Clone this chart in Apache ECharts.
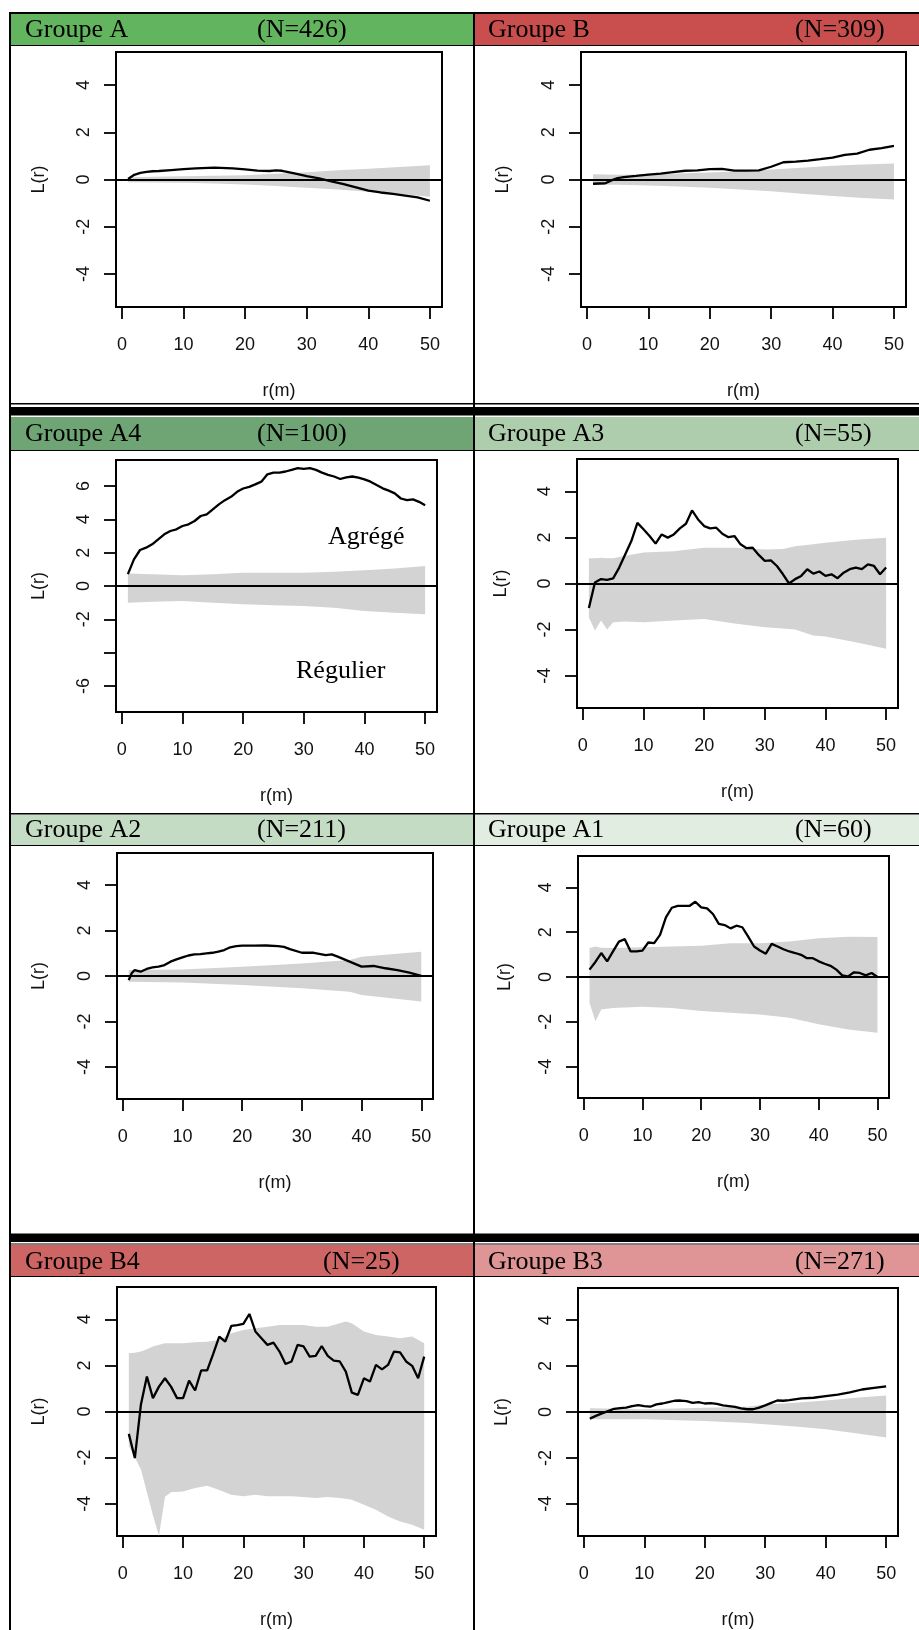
<!DOCTYPE html>
<html><head><meta charset="utf-8">
<script src="https://cdn.jsdelivr.net/npm/echarts@6/dist/echarts.min.js"></script>
<style>html,body{margin:0;padding:0;background:#fff}#c{width:919px;height:1630px}</style>
</head><body><div id="c"></div>
<script>
// ---------------- DATA ----------------
const panelTitles = ['Groupe A','Groupe B','Groupe A4','Groupe A3','Groupe A2','Groupe A1','Groupe B4','Groupe B3'];
const panelCounts = ['(N=426)','(N=309)','(N=100)','(N=55)','(N=211)','(N=60)','(N=25)','(N=271)'];
const xTicks = [0,10,20,30,40,50];
const yTicks = [-4,-2,0,2,4];
const yTicksA4 = [-6,-4,-2,0,2,4,6];
const yLabelsA4 = [-6,-2,0,2,4,6];
const r50 = [1,2,3,4,5,6,7,8,9,10,11,12,13,14,15,16,17,18,19,20,21,22,23,24,25,26,27,28,29,30,31,32,33,34,35,36,37,38,39,40,41,42,43,44,45,46,47,48,49,50];

// Groupe A
const A_r = [1,2,3,4,5,6,8,10,12,14,15,16,18,20,22,24,25,26,28,30,32,34,36,38,40,42,44,46,48,50];
const A_L = [0.02,0.2,0.28,0.32,0.35,0.36,0.4,0.44,0.47,0.49,0.5,0.49,0.47,0.43,0.38,0.36,0.39,0.37,0.26,0.14,0.05,-0.08,-0.2,-0.33,-0.47,-0.55,-0.61,-0.68,-0.76,-0.9];
const A_envR = [1,5,10,15,20,25,30,35,40,45,50];
const A_hi = [0.1,0.12,0.14,0.16,0.18,0.24,0.31,0.39,0.46,0.53,0.6];
const A_lo = [-0.12,-0.13,-0.14,-0.17,-0.21,-0.27,-0.35,-0.42,-0.52,-0.6,-0.73];

// Groupe B
const B_r = [1,2,3,4,5,6,8,10,12,14,16,18,20,22,24,26,28,30,32,34,36,38,40,42,44,46,48,50];
const B_L = [-0.18,-0.17,-0.16,-0.04,0.06,0.1,0.15,0.21,0.25,0.31,0.37,0.39,0.44,0.45,0.38,0.38,0.39,0.54,0.73,0.76,0.8,0.86,0.93,1.04,1.1,1.26,1.33,1.42];
const B_envR = [1,5,10,15,20,25,30,35,40,45,50];
const B_hi = [0.22,0.2,0.21,0.25,0.3,0.35,0.42,0.5,0.58,0.64,0.68];
const B_lo = [-0.22,-0.22,-0.25,-0.3,-0.35,-0.42,-0.5,-0.6,-0.7,-0.78,-0.85];

// Groupe A4
const A4_L = [0.71,1.6,2.16,2.3,2.5,2.8,3.1,3.3,3.4,3.6,3.7,3.9,4.2,4.3,4.6,4.9,5.15,5.35,5.65,5.85,5.95,6.1,6.26,6.7,6.8,6.8,6.87,6.97,7.07,7.03,7.07,6.97,6.8,6.67,6.57,6.42,6.52,6.57,6.5,6.4,6.26,6.06,5.86,5.72,5.56,5.25,5.15,5.2,5.05,4.85];
const A4_envR = [1,5,10,15,20,25,30,35,40,45,50];
const A4_hi = [0.75,0.7,0.65,0.7,0.8,0.8,0.8,0.85,0.95,1.05,1.2];
const A4_lo = [-1.0,-0.95,-0.9,-1.0,-1.1,-1.15,-1.2,-1.3,-1.5,-1.6,-1.7];

// Groupe A3
const A3_L = [-1.06,0.04,0.19,0.16,0.22,0.69,1.27,1.84,2.63,2.35,2.06,1.73,2.13,1.99,2.13,2.39,2.59,3.17,2.78,2.49,2.39,2.42,2.16,2.01,2.06,1.7,1.53,1.55,1.24,0.98,1.0,0.76,0.4,0.0,0.19,0.33,0.62,0.43,0.52,0.33,0.4,0.23,0.47,0.62,0.69,0.62,0.83,0.76,0.4,0.69];
const A3_envR = [1,2,3,4,5,7,10,15,20,25,30,33,35,38,40,45,50];
const A3_hi = [1.1,1.1,1.12,1.1,1.1,1.2,1.34,1.4,1.55,1.55,1.48,1.5,1.62,1.7,1.77,1.9,1.98];
const A3_lo = [-1.47,-2.04,-1.6,-2.0,-1.68,-1.65,-1.68,-1.6,-1.54,-1.73,-1.9,-1.95,-2.0,-2.25,-2.3,-2.55,-2.83];

// Groupe A2
const A2_r = [1,1.5,2,3,4,5,6,7,8,9,10,11,12,13,14,15,16,17,18,19,20,22,24,26,27,28,30,32,34,35,36,38,40,42,44,46,48,50];
const A2_L = [-0.18,0.12,0.26,0.19,0.31,0.38,0.41,0.48,0.63,0.73,0.82,0.9,0.95,0.96,0.99,1.02,1.07,1.14,1.26,1.31,1.33,1.33,1.34,1.31,1.28,1.18,1.02,1.02,0.92,0.95,0.85,0.63,0.41,0.44,0.34,0.26,0.15,0.01];
const A2_envR = [1,10,20,30,38,40,45,50];
const A2_hi = [0.26,0.29,0.41,0.55,0.7,0.85,0.96,1.07];
const A2_lo = [-0.25,-0.29,-0.39,-0.54,-0.69,-0.83,-0.98,-1.12];

// Groupe A1
const A1_L = [0.33,0.67,1.07,0.7,1.14,1.58,1.69,1.14,1.14,1.18,1.54,1.51,1.88,2.66,3.09,3.17,3.17,3.17,3.36,3.11,3.06,2.81,2.37,2.32,2.17,2.29,2.22,1.8,1.36,1.18,1.04,1.48,1.36,1.24,1.14,1.07,0.99,0.84,0.84,0.7,0.59,0.5,0.33,0.07,0.03,0.21,0.18,0.07,0.18,0.0];
const A1_envR = [1,2,3,5,10,15,20,25,30,35,40,45,50];
const A1_hi = [1.29,1.36,1.3,1.29,1.33,1.36,1.39,1.51,1.51,1.58,1.73,1.8,1.78];
const A1_lo = [-1.15,-1.97,-1.45,-1.38,-1.33,-1.38,-1.52,-1.6,-1.67,-1.82,-2.11,-2.34,-2.49];

// Groupe B4
const B4_L = [-0.97,-2.02,0.29,1.52,0.58,1.08,1.44,1.08,0.58,0.58,1.34,0.91,1.78,1.78,2.5,3.25,3.03,3.71,3.75,3.8,4.23,3.47,3.18,2.89,2.99,2.6,2.06,2.17,2.89,2.82,2.38,2.41,2.84,2.41,2.21,2.17,1.73,0.82,0.72,1.44,1.3,2.02,1.83,2.02,2.6,2.56,2.17,1.98,1.44,2.38];
const B4_envR = [1,2,3,4,5,6,7,8,10,12,14,16,18,20,22,24,26,28,30,32,34,36,37,38,40,42,44,46,48,50];
const B4_hi = [2.53,2.55,2.6,2.7,2.82,2.9,2.96,2.96,2.96,3.0,3.03,3.1,3.39,3.54,3.61,3.68,3.75,3.75,3.75,3.68,3.68,3.83,3.9,3.83,3.47,3.32,3.25,3.18,3.25,2.96];
const B4_lo = [-1.5,-2.0,-2.5,-3.5,-4.5,-5.4,-3.7,-3.5,-3.47,-3.32,-3.22,-3.4,-3.61,-3.68,-3.61,-3.68,-3.68,-3.68,-3.71,-3.75,-3.71,-3.75,-3.78,-3.83,-4.04,-4.26,-4.55,-4.77,-4.91,-5.13];

// Groupe B3
const B3_r = [1,2,3,4,5,6,7,8,9,10,11,12,13,14,15,16,17,18,19,20,21,22,23,24,25,26,27,28,29,30,31,32,33,34,36,38,40,42,44,46,48,50];
const B3_L = [-0.29,-0.17,-0.06,0.04,0.14,0.17,0.19,0.26,0.3,0.26,0.23,0.33,0.37,0.43,0.49,0.5,0.47,0.4,0.43,0.37,0.39,0.35,0.29,0.26,0.22,0.16,0.12,0.12,0.19,0.29,0.4,0.5,0.49,0.52,0.59,0.62,0.69,0.76,0.85,0.98,1.05,1.12];
const B3_envR = [1,10,20,27,30,35,40,45,50];
const B3_hi = [0.16,0.12,0.19,0.23,0.33,0.4,0.5,0.62,0.72];
const B3_lo = [-0.32,-0.32,-0.39,-0.48,-0.53,-0.63,-0.75,-0.92,-1.11];

const panelData = [
  {r:A_r, L:A_L, er:A_envR, hi:A_hi, lo:A_lo, yt:yTicks, yl:yTicks, ylim:5.4},
  {r:B_r, L:B_L, er:B_envR, hi:B_hi, lo:B_lo, yt:yTicks, yl:yTicks, ylim:5.4},
  {r:r50, L:A4_L, er:A4_envR, hi:A4_hi, lo:A4_lo, yt:yTicksA4, yl:yLabelsA4, ylim:7.56},
  {r:r50, L:A3_L, er:A3_envR, hi:A3_hi, lo:A3_lo, yt:yTicks, yl:yTicks, ylim:5.4},
  {r:A2_r, L:A2_L, er:A2_envR, hi:A2_hi, lo:A2_lo, yt:yTicks, yl:yTicks, ylim:5.4},
  {r:r50, L:A1_L, er:A1_envR, hi:A1_hi, lo:A1_lo, yt:yTicks, yl:yTicks, ylim:5.4},
  {r:r50, L:B4_L, er:B4_envR, hi:B4_hi, lo:B4_lo, yt:yTicks, yl:yTicks, ylim:5.4},
  {r:B3_r, L:B3_L, er:B3_envR, hi:B3_hi, lo:B3_lo, yt:yTicks, yl:yTicks, ylim:5.4}
];

// ---------------- LAYOUT / STYLE ----------------
const boxes = [
  [116,52,326,255],[581,52,325,255],
  [116,460,321,252],[577,459,321,249],
  [117,853,316,246],[578,856,311,242],
  [117,1287,319,249],[578,1288,320,250]
];
const yNameGaps = [68,69,68,67,69,64,69,67];
const headerColors = ['#63b45f','#c94f4f','#6fa474','#aecdad','#c4dcc4','#e2ede2','#cd6565','#df9595'];
const headerRows = [{y:14,h:31,ty:30},{y:417,h:33,ty:434},{y:814.5,h:30.5,ty:830},{y:1245,h:31,ty:1262}];
const countX = [257,795,257,795,257,795,323,795];

const AX = 'Liberation Sans', SERIF = 'Liberation Serif';
const grids=[], xAxes=[], yAxes=[], series=[], graphics=[];

panelData.forEach((p,i)=>{
  const b = boxes[i];
  grids.push({left:b[0], top:b[1], width:b[2], height:b[3], show:true, borderColor:'#000', borderWidth:2, backgroundColor:'transparent', containLabel:false});
  xAxes.push({type:'value', gridIndex:i, min:-0.96, max:51.96,
    axisLine:{show:false, onZero:false}, splitLine:{show:false},
    axisTick:{show:true, customValues:xTicks, length:12, lineStyle:{color:'#000', width:1.8}},
    axisLabel:{customValues:xTicks, margin:29, fontSize:18, fontFamily:AX, color:'#111'},
    name:'r(m)', nameLocation:'middle', nameGap:75, nameTextStyle:{fontSize:18, fontFamily:AX, color:'#111'}});
  yAxes.push({type:'value', gridIndex:i, min:-p.ylim, max:p.ylim,
    axisLine:{show:false, onZero:false}, splitLine:{show:false},
    axisTick:{show:true, customValues:p.yt, length:12, lineStyle:{color:'#000', width:1.8}},
    axisLabel:{customValues:p.yl, rotate:90, margin:23, fontSize:18, fontFamily:AX, color:'#111'},
    name:'L(r)', nameLocation:'middle', nameRotate:90, nameGap:yNameGaps[i], nameTextStyle:{fontSize:18, fontFamily:AX, color:'#111'}});
  // envelope polygon: hi forward, lo backward, projected through the axes
  series.push({type:'custom', xAxisIndex:i, yAxisIndex:i, silent:true, clip:true, z:1,
    data:[[p.er[0], 0]],
    renderItem:(params, api)=>{
      const pts = [];
      for (let k=0;k<p.er.length;k++) pts.push(api.coord([p.er[k], p.hi[k]]));
      for (let k=p.er.length-1;k>=0;k--) pts.push(api.coord([p.er[k], p.lo[k]]));
      return {type:'polygon', shape:{points:pts}, style:{fill:'#d3d3d3'}};
    }});
  series.push({type:'line', xAxisIndex:i, yAxisIndex:i, symbol:'none', silent:true,
    lineStyle:{color:'#000', width:2.3}, data:p.r.map((x,k)=>[x,p.L[k]]), z:3,
    markLine:{silent:true, symbol:['none','none'], label:{show:false}, lineStyle:{color:'#000', width:1.8, type:'solid'}, data:[{yAxis:0}]}});

  // header
  const row = headerRows[Math.floor(i/2)];
  const left = i%2===0;
  graphics.push({type:'rect', shape:{x:left?11:475, y:row.y, width:left?462:444, height:row.h}, style:{fill:headerColors[i]}, z:0});
  graphics.push({type:'text', x:left?25:488, y:row.ty, style:{text:panelTitles[i], fontSize:26, fontFamily:SERIF, fill:'#000', verticalAlign:'middle'}, z:5});
  graphics.push({type:'text', x:countX[i], y:row.ty, style:{text:panelCounts[i], fontSize:26, fontFamily:SERIF, fill:'#000', verticalAlign:'middle'}, z:5});
});

// table lines
const lines = [
  [9,12,910,2],[9,13,2,1617],[473,13,2,1617],
  [11,45,908,1],[11,450,908,1],[11,845,908,1],[11,1276,908,1],
  [11,403,908,1.5],[9,407,910,8.5],
  [11,813,908,1.5],
  [9,1233.5,910,8.5],[11,1243.5,908,1]
];
lines.forEach(l=>graphics.push({type:'rect', shape:{x:l[0],y:l[1],width:l[2],height:l[3]}, style:{fill:'#000'}, z:6}));
graphics.push({type:'text', x:328, y:537, style:{text:'Agrégé', fontSize:26, fontFamily:SERIF, fill:'#000', verticalAlign:'middle'}, z:5});
graphics.push({type:'text', x:296, y:671, style:{text:'Régulier', fontSize:26, fontFamily:SERIF, fill:'#000', verticalAlign:'middle'}, z:5});

const chart = echarts.init(document.getElementById('c'), null, {renderer:'canvas'});
chart.setOption({animation:false, backgroundColor:'#fff', grid:grids, xAxis:xAxes, yAxis:yAxes, series:series, graphic:graphics});
</script></body></html>
